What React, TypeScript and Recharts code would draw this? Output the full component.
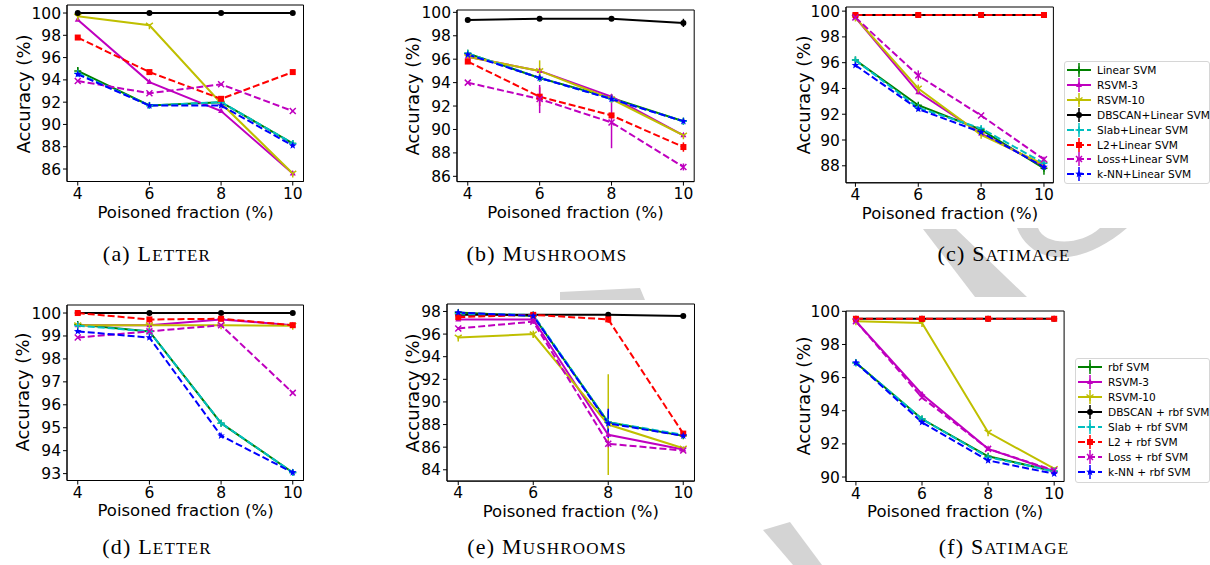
import React from "react";
import { LineChart, Line, XAxis, YAxis, ErrorBar, ReferenceArea } from "recharts";

const fractions = [4, 6, 8, 10];

const linearNames = ["Linear SVM", "RSVM-3", "RSVM-10", "DBSCAN+Linear SVM", "Slab+Linear SVM", "L2+Linear SVM", "Loss+Linear SVM", "k-NN+Linear SVM"];
const rbfNames = ["rbf SVM", "RSVM-3", "RSVM-10", "DBSCAN + rbf SVM", "Slab + rbf SVM", "L2 + rbf SVM", "Loss + rbf SVM", "k-NN + rbf SVM"];

// series order: base SVM, RSVM-3, RSVM-10, DBSCAN, Slab, L2, Loss, k-NN
const letterLinear = [
  [94.8, 91.7, 92.0, 88.3],
  [99.4, 93.8, 91.2, 85.6],
  [99.7, 98.9, 91.9, 85.6],
  [100, 100, 100, 100],
  [94.6, 91.7, 92.0, 88.3],
  [97.8, 94.7, 92.3, 94.7],
  [93.9, 92.8, 93.6, 91.2],
  [94.5, 91.7, 91.7, 88.1],
];
const letterLinearErr = [
  [0.35, 0.1, 0.1, 0.15],
  [0.1, 0.1, 0.1, 0.1],
  [0.1, 0.1, 0.1, 0.1],
  [0, 0, 0, 0],
  [0.1, 0.1, 0.1, 0.1],
  [0.1, 0.1, 0.1, 0.1],
  [0.1, 0.1, 0.1, 0.1],
  [0.15, 0.1, 0.1, 0.1],
];

const mushLinear = [
  [96.5, 94.4, 92.7, 90.7],
  [96.2, 95.0, 92.8, 89.5],
  [96.2, 95.0, 92.6, 89.5],
  [99.35, 99.45, 99.45, 99.1],
  [96.5, 94.4, 92.6, 90.7],
  [95.8, 92.8, 91.2, 88.5],
  [94.0, 92.6, 90.6, 86.8],
  [96.4, 94.4, 92.6, 90.7],
];
const mushLinearErr = [
  [0.1, 0.1, 0.15, 0.15],
  [0.1, 0.2, 0.2, 0.1],
  [0.1, 0.9, 0.2, 0.1],
  [0.05, 0.05, 0.05, 0.35],
  [0.1, 0.1, 0.15, 0.15],
  [0.1, 0.8, 0.2, 0.4],
  [0.05, 1.2, 2.2, 0.3],
  [0.1, 0.2, 0.2, 0.15],
];

const satLinear = [
  [96.2, 92.7, 90.8, 87.8],
  [99.5, 93.7, 90.5, 88.0],
  [99.5, 94.0, 90.4, 88.1],
  [99.7, 99.7, 99.7, 99.7],
  [96.2, 92.5, 90.9, 88.2],
  [99.7, 99.7, 99.7, 99.7],
  [99.5, 95.0, 91.9, 88.5],
  [95.8, 92.4, 90.6, 87.9],
];
const satLinearErr = [
  [0.1, 0.1, 0.1, 0.5],
  [0.1, 0.15, 0.1, 0.1],
  [0.1, 0.3, 0.1, 0.1],
  [0.05, 0.05, 0.05, 0.05],
  [0.1, 0.1, 0.1, 0.1],
  [0.05, 0.05, 0.05, 0.05],
  [0.1, 0.4, 0.1, 0.2],
  [0.1, 0.1, 0.1, 0.1],
];

const letterRbf = [
  [99.5, 99.2, 95.2, 93.05],
  [99.47, 99.47, 99.72, 99.47],
  [99.47, 99.47, 99.47, 99.45],
  [100, 100, 100, 100],
  [99.45, 99.2, 95.2, 93.05],
  [100, 99.72, 99.75, 99.47],
  [98.93, 99.2, 99.47, 96.52],
  [99.2, 98.93, 94.65, 93.05],
];
const letterRbfErr = [
  [0.04, 0.04, 0.04, 0.04],
  [0.03, 0.03, 0.03, 0.03],
  [0.03, 0.03, 0.03, 0.03],
  [0, 0, 0, 0],
  [0.04, 0.04, 0.04, 0.04],
  [0.03, 0.03, 0.03, 0.03],
  [0.03, 0.03, 0.03, 0.03],
  [0.04, 0.04, 0.04, 0.04],
];

const mushRbf = [
  [97.9, 97.6, 88.2, 87.0],
  [97.3, 97.3, 87.1, 85.8],
  [95.7, 96.0, 88.0, 85.9],
  [97.7, 97.7, 97.7, 97.6],
  [97.8, 97.7, 88.2, 87.1],
  [97.5, 97.7, 97.3, 87.2],
  [96.5, 97.1, 86.3, 85.7],
  [97.9, 97.6, 88.1, 87.0],
];
const mushRbfErr = [
  [0.1, 0.1, 1.0, 0.1],
  [0.1, 0.1, 0.2, 0.1],
  [0.15, 0.3, 4.45, 0.1],
  [0.05, 0.05, 0.1, 0.05],
  [0.1, 0.1, 1.0, 0.1],
  [0.1, 0.1, 0.3, 0.2],
  [0.1, 0.2, 0.3, 0.1],
  [0.1, 0.1, 1.3, 0.1],
];

const satRbf = [
  [96.9, 93.5, 91.25, 90.35],
  [99.4, 95.0, 91.7, 90.35],
  [99.4, 99.3, 92.7, 90.5],
  [99.55, 99.55, 99.55, 99.55],
  [96.9, 93.5, 91.2, 90.35],
  [99.55, 99.55, 99.55, 99.55],
  [99.4, 94.8, 91.7, 90.4],
  [96.9, 93.3, 91.0, 90.2],
];
const satRbfErr = [
  [0.05, 0.05, 0.05, 0.05],
  [0.05, 0.1, 0.1, 0.05],
  [0.05, 0.05, 0.1, 0.05],
  [0.03, 0.03, 0.03, 0.03],
  [0.05, 0.05, 0.05, 0.05],
  [0.03, 0.03, 0.03, 0.03],
  [0.05, 0.1, 0.1, 0.05],
  [0.05, 0.05, 0.05, 0.05],
];

const ticksLetterLin = [86, 88, 90, 92, 94, 96, 98, 100];
const ticksMushLin = [86, 88, 90, 92, 94, 96, 98, 100];
const ticksSatLin = [88, 90, 92, 94, 96, 98, 100];
const ticksLetterRbf = [93, 94, 95, 96, 97, 98, 99, 100];
const ticksMushRbf = [84, 86, 88, 90, 92, 94, 96, 98];
const ticksSatRbf = [90, 92, 94, 96, 98, 100];

const colors = ["#008000", "#bf00bf", "#bfbf00", "#000000", "#00bfbf", "#ff0000", "#bf00bf", "#0000ff"];
const dashed = [false, false, false, false, true, true, true, true];
const markers = ["plus", "tri", "tridown", "circle", "plus", "square", "x", "star"];

const FONT = "'DejaVu Sans', sans-serif";

function drawMarker(shape: string, color: string, cx: number, cy: number, key?: string) {
  switch (shape) {
    case "circle":
      return <circle key={key} cx={cx} cy={cy} r={3} fill={color} />;
    case "square":
      return <rect key={key} x={cx - 3} y={cy - 3} width={6} height={6} fill={color} />;
    case "x":
      return <path key={key} d={`M${cx - 3},${cy - 3}L${cx + 3},${cy + 3}M${cx - 3},${cy + 3}L${cx + 3},${cy - 3}`} stroke={color} strokeWidth={1.5} />;
    case "plus":
      return <path key={key} d={`M${cx - 3.5},${cy}H${cx + 3.5}M${cx},${cy - 3.5}V${cy + 3.5}`} stroke={color} strokeWidth={1.5} />;
    case "tri":
      return <polygon key={key} points={`${cx},${cy - 3.5} ${cx + 3},${cy + 2} ${cx - 3},${cy + 2}`} fill={color} />;
    case "tridown":
      return <path key={key} d={`M${cx},${cy}V${cy + 4}M${cx},${cy}L${cx - 3.5},${cy - 2.5}M${cx},${cy}L${cx + 3.5},${cy - 2.5}`} stroke={color} strokeWidth={1.5} />;
    case "star": {
      const pts: string[] = [];
      for (let k = 0; k < 10; k++) {
        const r = k % 2 === 0 ? 4 : 1.7;
        const a = -Math.PI / 2 + (k * Math.PI) / 5;
        pts.push(`${cx + r * Math.cos(a)},${cy + r * Math.sin(a)}`);
      }
      return <polygon key={key} points={pts.join(" ")} fill={color} />;
    }
    default:
      return <g key={key} />;
  }
}

type Frame = { left: number; top: number; right: number; bottom: number };

interface PanelProps {
  frame: Frame;
  yDomain: [number, number];
  yTicks: number[];
  values: number[][];
  errors: number[][];
  ylabelGap: number;
}

function Panel({ frame, yDomain, yTicks, values, errors, ylabelGap }: PanelProps) {
  const YW = 70, MT = 12, MR = 4, XH = 50;
  const fw = frame.right - frame.left;
  const fh = frame.bottom - frame.top;
  const xDomain: [number, number] = [3.7, 10.3];

  const rows = fractions.map((f, i) => {
    const row: Record<string, number> = { x: f };
    values.forEach((s, k) => {
      row[`s${k}`] = s[i];
      row[`e${k}`] = errors[k][i];
    });
    return row;
  });

  return (
    <div style={{ position: "absolute", left: frame.left - YW, top: frame.top - MT }}>
      <LineChart width={fw + YW + MR} height={fh + MT + XH} data={rows} margin={{ top: MT, right: MR, bottom: 0, left: 0 }}>
        <XAxis
          type="number"
          dataKey="x"
          domain={xDomain}
          ticks={fractions}
          allowDataOverflow
          height={XH}
          interval={0}
          tickSize={4}
          tick={{ fill: "#000", fontSize: 15.5, fontFamily: FONT }}
          tickLine={{ stroke: "#000" }}
          axisLine={{ stroke: "#000" }}
        />
        <YAxis
          type="number"
          domain={yDomain}
          ticks={yTicks}
          allowDataOverflow
          width={YW}
          interval={0}
          tickSize={4}
          tick={{ fill: "#000", fontSize: 15.5, fontFamily: FONT }}
          tickLine={{ stroke: "#000" }}
          axisLine={{ stroke: "#000" }}
        />
        <ReferenceArea x1={xDomain[0]} x2={xDomain[1]} y1={yDomain[0]} y2={yDomain[1]} fill="none" stroke="#000" strokeWidth={1} ifOverflow="visible" />
        {values.map((_, k) => (
          <Line
            key={k}
            type="linear"
            dataKey={`s${k}`}
            stroke={colors[k]}
            strokeWidth={2}
            strokeDasharray={dashed[k] ? "7 3" : undefined}
            dot={(p: any) => drawMarker(markers[k], colors[k], p.cx, p.cy, `m${k}-${p.index}`)}
            activeDot={false}
            isAnimationActive={false}
          >
            <ErrorBar dataKey={`e${k}`} width={0} strokeWidth={1.5} stroke={colors[k]} direction="y" isAnimationActive={false} />
          </Line>
        ))}
      </LineChart>
      <div
        style={{
          position: "absolute",
          left: YW + fw / 2,
          top: MT + fh + 30,
          transform: "translate(-50%, -50%)",
          whiteSpace: "nowrap",
          fontFamily: FONT,
          fontSize: 16.5,
        }}
      >
        Poisoned fraction (%)
      </div>
      <div
        style={{
          position: "absolute",
          left: YW - ylabelGap,
          top: MT + fh / 2,
          transform: "translate(-50%, -50%) rotate(-90deg)",
          whiteSpace: "nowrap",
          fontFamily: FONT,
          fontSize: 18,
        }}
      >
        Accuracy (%)
      </div>
    </div>
  );
}

function LegendBox({ names, left, top, width, height, step }: { names: string[]; left: number; top: number; width: number; height: number; step: number }) {
  return (
    <div
      style={{
        position: "absolute",
        left,
        top,
        width,
        height,
        border: "1px solid #d6d6d6",
        borderRadius: 3,
        background: "#fff",
        boxSizing: "border-box",
      }}
    >
      {names.map((n, k) => (
        <div key={n} style={{ position: "absolute", left: 2, top: 8 + k * step - 7, height: 14, display: "flex", alignItems: "center" }}>
          <svg width={24} height={14}>
            <line x1={0} y1={7} x2={24} y2={7} stroke={colors[k]} strokeWidth={2} strokeDasharray={dashed[k] ? "7 3" : undefined} />
            <line x1={12} y1={0} x2={12} y2={14} stroke={colors[k]} strokeWidth={1.5} />
            {drawMarker(markers[k], colors[k], 12, 7)}
          </svg>
          <span style={{ marginLeft: 6, fontSize: 10.6, fontFamily: FONT, whiteSpace: "nowrap" }}>{n}</span>
        </div>
      ))}
    </div>
  );
}

function Caption({ label, name, cx, baseline }: { label: string; name: string; cx: number; baseline: number }) {
  return (
    <div
      style={{
        position: "absolute",
        left: cx,
        top: baseline - 18,
        transform: "translateX(-50%)",
        whiteSpace: "nowrap",
        fontFamily: "'Liberation Serif', serif",
        fontSize: 22,
        lineHeight: "22px",
        letterSpacing: 1.2,
      }}
    >
      {label} {name[0]}
      <span style={{ fontSize: 17 }}>{name.slice(1).toUpperCase()}</span>
    </div>
  );
}

export default function App() {
  return (
    <div style={{ position: "absolute", left: 0, top: 0, width: 1210, height: 565, overflow: "hidden", background: "#fff", fontFamily: FONT }}>
      <svg width={1210} height={565} style={{ position: "absolute", left: 0, top: 0 }}>
        <g fill="#d4d4d4">
          <polygon points="923,229 956,229 1027,297 975,297" />
          <path d="M1017,228 C1030,262 1075,272 1127,228 L1100,228 C1080,246 1045,246 1038,228 Z" />
          <polygon points="560,292 640,288 645,300 560,300" />
          <polygon points="763,530 790,522 822,565 793,565" />
        </g>
      </svg>

      <Panel frame={{ left: 67.3, right: 303.8, top: 5.3, bottom: 181.8 }} yDomain={[84.88, 100.72]} yTicks={ticksLetterLin} values={letterLinear} errors={letterLinearErr} ylabelGap={44} />
      <Panel frame={{ left: 456.9, right: 694.1, top: 10.4, bottom: 182 }} yDomain={[85.55, 100.2]} yTicks={ticksMushLin} values={mushLinear} errors={mushLinearErr} ylabelGap={45} />
      <Panel frame={{ left: 846.3, right: 1053.7, top: 6.9, bottom: 182.7 }} yDomain={[86.68, 100.32]} yTicks={ticksSatLin} values={satLinear} errors={satLinearErr} ylabelGap={43} />
      <LegendBox names={linearNames} left={1064} top={61} width={146} height={123} step={14.9} />

      <Panel frame={{ left: 67.3, right: 303.8, top: 304.7, bottom: 480.2 }} yDomain={[92.7, 100.35]} yTicks={ticksLetterRbf} values={letterRbf} errors={letterRbfErr} ylabelGap={45} />
      <Panel frame={{ left: 447.1, right: 694.6, top: 304.2, bottom: 481.3 }} yDomain={[83.0, 98.66]} yTicks={ticksMushRbf} values={mushRbf} errors={mushRbfErr} ylabelGap={35} />
      <Panel frame={{ left: 846.1, right: 1064.2, top: 310.7, bottom: 481.2 }} yDomain={[89.73, 100.02]} yTicks={ticksSatRbf} values={satRbf} errors={satRbfErr} ylabelGap={43} />
      <LegendBox names={rbfNames} left={1075} top={358} width={135} height={125} step={15} />

      <Caption label="(a)" name="Letter" cx={157} baseline={261} />
      <Caption label="(b)" name="Mushrooms" cx={547} baseline={261} />
      <Caption label="(c)" name="Satimage" cx={1004} baseline={261} />
      <Caption label="(d)" name="Letter" cx={157} baseline={554} />
      <Caption label="(e)" name="Mushrooms" cx={547} baseline={554} />
      <Caption label="(f)" name="Satimage" cx={1004} baseline={554} />
    </div>
  );
}
